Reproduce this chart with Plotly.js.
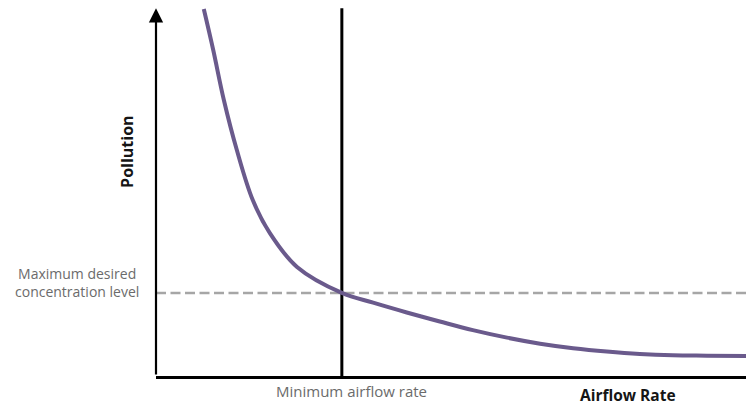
<!DOCTYPE html>
<html>
<head>
<meta charset="utf-8">
<script src="https://cdn.plot.ly/plotly-3.0.1.min.js"></script>
<style>
  html, body { margin: 0; padding: 0; background: #fff; }
  #chart { width: 746px; height: 407px; }
</style>
</head>
<body>
<div id="chart"></div>
<script>
// Curve (arbitrary schematic units, 0-100 on both axes)
const airflow   = [8.1, 9.7, 11.5, 13.7, 16.4, 19.3, 23.9, 31.5, 36.8, 42.5, 48.1, 53.7, 59.5, 65.1, 70.7, 76.4, 82.0, 87.6, 93.4, 100];
const pollution = [97.6, 86.7, 73.4, 60.1, 46.8, 38.0, 29.0, 22.1, 19.5, 16.9, 14.5, 12.2, 10.2, 8.6, 7.4, 6.5, 5.85, 5.5, 5.4, 5.3];

const minAirflowRate = 31.5;     // vertical reference line
const maxDesiredLevel = 22.1;    // dashed horizontal reference line
const axisTop = 97.8;            // top of the y-axis arrow / vertical line
const xRange = [0, 100];
const yRange = [0, 100];

const labels = {
  yTitle: "Pollution",
  xTitle: "Airflow Rate",
  minAirflow: "Minimum airflow rate",
  maxLevel: "Maximum desired<br>concentration level"
};

const traces = [
  { // dashed max concentration line
    x: [xRange[0], xRange[1]], y: [maxDesiredLevel, maxDesiredLevel],
    mode: "lines", line: { color: "#a6a6a6", width: 2.5, dash: "10px,4.5px" },
    hoverinfo: "skip", cliponaxis: false
  },
  { // minimum airflow vertical line
    x: [minAirflowRate, minAirflowRate], y: [yRange[0], axisTop],
    mode: "lines", line: { color: "#000", width: 3 },
    hoverinfo: "skip", cliponaxis: false
  },
  { // pollution curve
    x: airflow, y: pollution,
    mode: "lines", line: { color: "#6a5a8c", width: 4, shape: "spline", smoothing: 1 },
    cliponaxis: false
  }
];

const grayFont = { family: "Open Sans, sans-serif", size: 14, color: "#6b6b6b" };
const grayFontB = { family: "Open Sans, sans-serif", size: 15, color: "#6b6b6b" };
const boldFont = { family: "Open Sans, sans-serif", size: 16, color: "#151515", weight: "bold" };
const boldFontX = { family: "Open Sans, sans-serif", size: 15.5, color: "#151515", weight: "bold" };

const layout = {
  width: 746, height: 407,
  margin: { l: 156, r: 0, t: 0, b: 31, pad: 0 },
  paper_bgcolor: "#fff", plot_bgcolor: "#fff",
  showlegend: false,
  xaxis: {
    range: xRange, showgrid: false, zeroline: false, showticklabels: false, ticks: "",
    showline: true, linecolor: "#000", linewidth: 3, fixedrange: true
  },
  yaxis: {
    range: yRange, showgrid: false, zeroline: false, showticklabels: false, ticks: "",
    showline: false, fixedrange: true
  },
  annotations: [
    { // y-axis arrow
      x: xRange[0], y: axisTop, ax: xRange[0], ay: yRange[0],
      xref: "x", yref: "y", axref: "x", ayref: "y",
      showarrow: true, arrowhead: 2, arrowsize: 1.3, arrowwidth: 2.2, arrowcolor: "#000",
      text: ""
    },
    {
      text: labels.yTitle, textangle: -90,
      xref: "paper", x: 0, xshift: -29, xanchor: "center",
      yref: "y", y: 59.6, yanchor: "middle",
      showarrow: false, font: boldFont
    },
    {
      text: labels.maxLevel, align: "center",
      xref: "paper", x: 0, xshift: -79.5, xanchor: "center",
      yref: "y", y: maxDesiredLevel, yshift: 10, yanchor: "middle",
      showarrow: false, font: grayFont
    },
    {
      text: labels.minAirflow,
      xref: "x", x: minAirflowRate, xshift: 10, xanchor: "center",
      yref: "paper", y: 0, yshift: -15, yanchor: "middle",
      showarrow: false, font: grayFontB
    },
    {
      text: labels.xTitle,
      xref: "paper", x: 0.8, xanchor: "center",
      yref: "paper", y: 0, yshift: -19, yanchor: "middle",
      showarrow: false, font: boldFontX
    }
  ]
};

Plotly.newPlot("chart", traces, layout, { displayModeBar: false, staticPlot: true });
</script>
</body>
</html>
